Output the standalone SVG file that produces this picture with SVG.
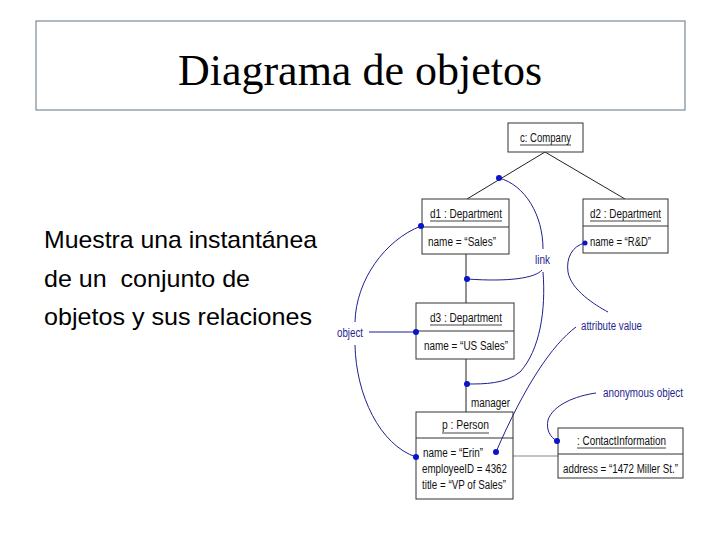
<svg xmlns="http://www.w3.org/2000/svg" width="720" height="540" viewBox="0 0 720 540">
<style>
.box{fill:#fff;stroke:#333;stroke-width:1}
.div{stroke:#333;stroke-width:1}
.t{font-family:"Liberation Sans",Arial,sans-serif;font-size:12.5px;fill:#111}
.ul{stroke:#111;stroke-width:0.8}
.lnk{stroke:#222;stroke-width:1;fill:none}
.ann{stroke:#1f1f8f;stroke-width:1;fill:none}
.dot{fill:#0a14c8}
.a{font-family:"Liberation Sans",Arial,sans-serif;font-size:12.5px;fill:#1f1f8f}
.body{font-family:"Liberation Sans",Arial,sans-serif;font-size:24px;fill:#000;white-space:pre}
</style>
<rect width="720" height="540" fill="#fff"/>
<g id="title">
<rect x="36" y="21" width="649" height="89" fill="#fff" stroke="#7a8a9a" stroke-width="1.2"/>
<text x="360" y="85" text-anchor="middle" font-family="Liberation Serif,Times New Roman,serif" font-size="44" fill="#000">Diagrama de objetos</text>
</g>
<g id="description">
<text class="body" x="44" y="248" textLength="273" lengthAdjust="spacingAndGlyphs">Muestra una instantánea</text>
<text class="body" x="44" y="287" textLength="206" lengthAdjust="spacingAndGlyphs" xml:space="preserve">de un  conjunto de</text>
<text class="body" x="44" y="325" textLength="268" lengthAdjust="spacingAndGlyphs">objetos y sus relaciones</text>
</g>
<g id="connectors">
<line class="lnk" x1="545" y1="152" x2="467" y2="199"/>
<line class="lnk" x1="545" y1="152" x2="625" y2="199"/>
<line class="lnk" x1="466" y1="254" x2="466" y2="303"/>
<line class="lnk" x1="466" y1="359" x2="466" y2="412"/>
<line x1="513" y1="456" x2="558" y2="456" stroke="#888" stroke-width="1"/>
<text class="t" x="471" y="407" textLength="39" lengthAdjust="spacingAndGlyphs">manager</text>
</g>
<g id="node-company">
<rect class="box" x="508" y="123" width="75" height="29"/>
<text class="t" x="520" y="142" textLength="51" lengthAdjust="spacingAndGlyphs">c: Company</text>
<line class="ul" x1="520" y1="145" x2="571" y2="145"/>
</g>
<g id="node-d1">
<rect class="box" x="422" y="199" width="87" height="55"/>
<line class="div" x1="422" y1="227" x2="509" y2="227"/>
<text class="t" x="430" y="218" textLength="72" lengthAdjust="spacingAndGlyphs">d1 : Department</text>
<line class="ul" x1="430" y1="221" x2="502" y2="221"/>
<text class="t" x="428" y="246" textLength="68" lengthAdjust="spacingAndGlyphs">name = “Sales”</text>
</g>
<g id="node-d2">
<rect class="box" x="583" y="199" width="85" height="54"/>
<line class="div" x1="583" y1="226" x2="668" y2="226"/>
<text class="t" x="590" y="218" textLength="71" lengthAdjust="spacingAndGlyphs">d2 : Department</text>
<line class="ul" x1="590" y1="221" x2="661" y2="221"/>
<text class="t" x="590" y="246" textLength="61" lengthAdjust="spacingAndGlyphs">name = “R&amp;D”</text>
</g>
<g id="node-d3">
<rect class="box" x="416" y="303" width="98" height="56"/>
<line class="div" x1="416" y1="331" x2="514" y2="331"/>
<text class="t" x="430" y="322" textLength="72" lengthAdjust="spacingAndGlyphs">d3 : Department</text>
<line class="ul" x1="430" y1="325" x2="502" y2="325"/>
<text class="t" x="424" y="350" textLength="84" lengthAdjust="spacingAndGlyphs">name = “US Sales”</text>
</g>
<g id="node-person">
<rect class="box" x="416" y="412" width="97" height="87"/>
<line class="div" x1="416" y1="438" x2="513" y2="438"/>
<text class="t" x="442" y="429" textLength="47" lengthAdjust="spacingAndGlyphs">p : Person</text>
<line class="ul" x1="442" y1="433" x2="489" y2="433"/>
<text class="t" x="423" y="457" textLength="60" lengthAdjust="spacingAndGlyphs">name = “Erin”</text>
<text class="t" x="422" y="473" textLength="85" lengthAdjust="spacingAndGlyphs">employeeID = 4362</text>
<text class="t" x="422" y="489" textLength="84" lengthAdjust="spacingAndGlyphs">title = “VP of Sales”</text>
</g>
<g id="node-contact">
<rect class="box" x="558" y="428" width="125" height="50"/>
<line class="div" x1="558" y1="454" x2="683" y2="454"/>
<text class="t" x="577" y="445" textLength="89" lengthAdjust="spacingAndGlyphs">: ContactInformation</text>
<line class="ul" x1="577" y1="448" x2="666" y2="448"/>
<text class="t" x="563" y="473" textLength="115" lengthAdjust="spacingAndGlyphs">address = “1472 Miller St.”</text>
</g>
<g id="annotations">
<path class="ann" d="M499,178 C525,185 543,215 543,249"/>
<path class="ann" d="M542,270 C535,278 510,282 467,279"/>
<path class="ann" d="M543,272 C546,310 540,350 520,372 C505,384 485,384 467,384"/>
<text class="a" x="535" y="264" textLength="15" lengthAdjust="spacingAndGlyphs">link</text>
<path class="ann" d="M585,243 C572,246 566,258 568,272 C571,290 595,305 608,312"/>
<path class="ann" d="M576,327 C552,345 525,385 496,452"/>
<text class="a" x="581" y="330" textLength="61" lengthAdjust="spacingAndGlyphs">attribute value</text>
<path class="ann" d="M596,393 C575,396 553,405 548,420 C546,430 550,437 557,441"/>
<text class="a" x="603" y="397" textLength="80" lengthAdjust="spacingAndGlyphs">anonymous object</text>
<path class="ann" d="M421,226 C385,240 356,280 355,322"/>
<path class="ann" d="M355,345 C356,395 380,445 416,457"/>
<line class="ann" x1="369" y1="332" x2="416" y2="332"/>
<text class="a" x="337" y="337" textLength="26" lengthAdjust="spacingAndGlyphs">object</text>
<circle class="dot" cx="499" cy="178" r="3"/>
<circle class="dot" cx="421" cy="226" r="3"/>
<circle class="dot" cx="467" cy="279" r="3"/>
<circle class="dot" cx="585" cy="243" r="2.5"/>
<circle class="dot" cx="416" cy="332" r="3"/>
<circle class="dot" cx="467" cy="384" r="3"/>
<circle class="dot" cx="496" cy="452" r="3"/>
<circle class="dot" cx="416" cy="457" r="3"/>
<circle class="dot" cx="557" cy="441" r="3"/>
</g>
</svg>
